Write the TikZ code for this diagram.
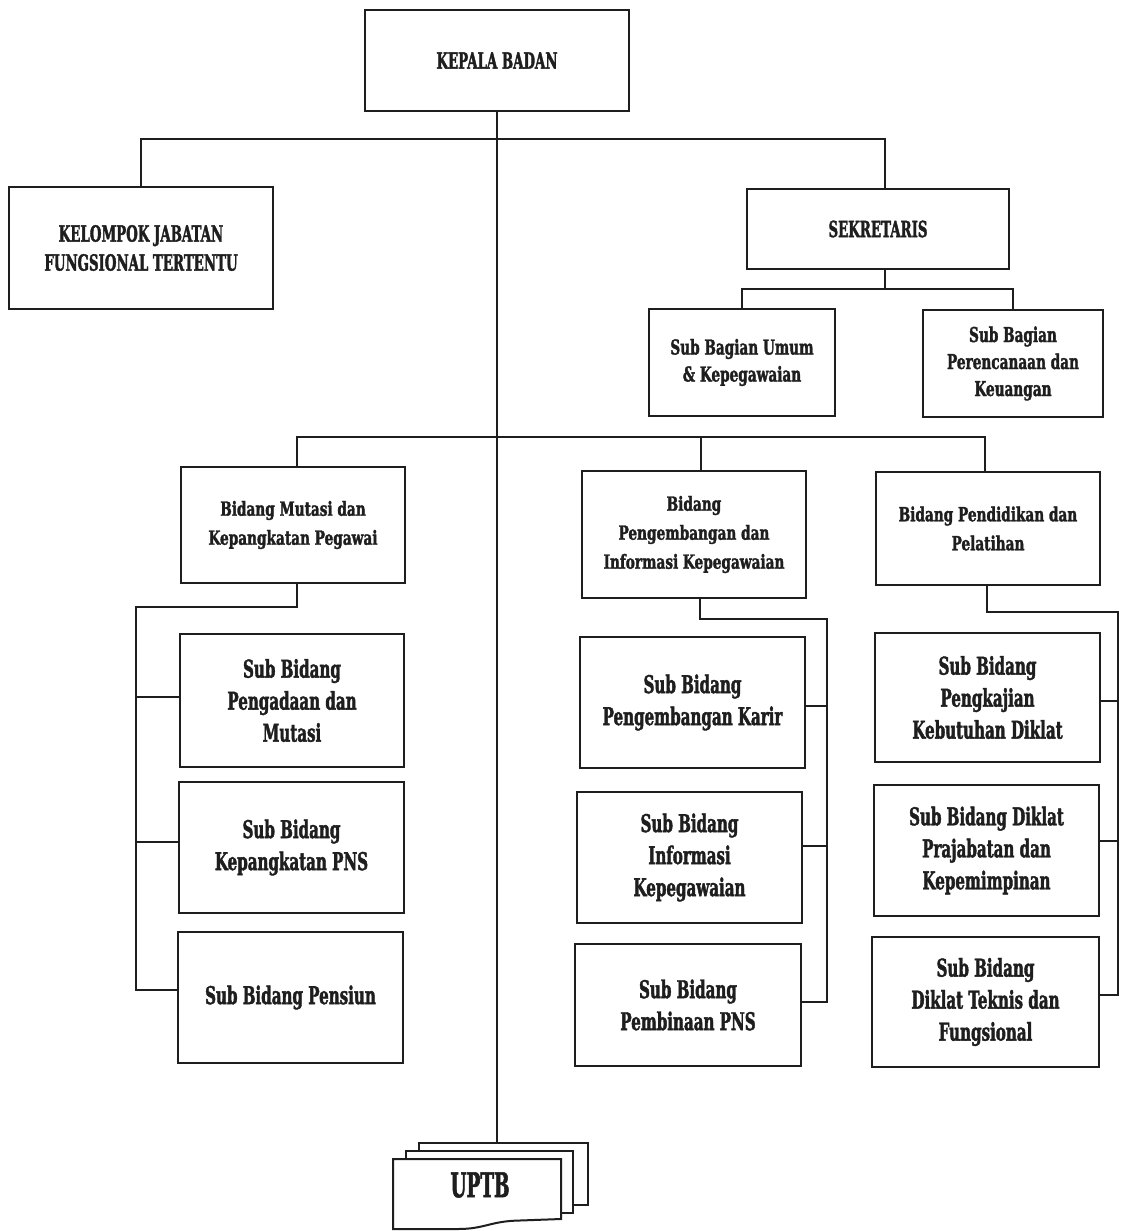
\documentclass[tikz,border=0pt]{standalone}
\usepackage{fontspec}
\setmainfont{DejaVu Serif}[FakeStretch=0.7, BoldFeatures={FakeBold=1.6}]
\newfontfamily\fsubb{DejaVu Serif}[FakeStretch=0.615, BoldFeatures={FakeBold=1.6}]
\newfontfamily\fcapp{DejaVu Serif}[FakeStretch=0.6, BoldFeatures={FakeBold=1.6}]
\newfontfamily\fbagg{DejaVu Serif}[FakeStretch=0.665, BoldFeatures={FakeBold=1.6}]
\newfontfamily\fupt{DejaVu Serif}[FakeStretch=0.54, BoldFeatures={FakeBold=1.6}]
\definecolor{ink}{HTML}{1E1E1E}
\begin{document}
\begin{tikzpicture}[x=1pt,y=-1pt,
  box/.style={draw=ink, line width=2pt, align=center, inner sep=2pt, outer sep=0pt, fill=white, text=ink},
  wire/.style={draw=ink, line width=2pt, line join=miter},
  capf/.style={font=\fcapp\fontsize{22.2}{29}\selectfont\bfseries},
  bidf/.style={font=\fontsize{19.5}{29}\selectfont\bfseries},
  subf/.style={font=\fsubb\fontsize{24.5}{32}\selectfont\bfseries},
  bagf/.style={font=\fbagg\fontsize{20.5}{27}\selectfont\bfseries},
  uptbf/.style={font=\fupt\fontsize{34}{36}\selectfont\bfseries}]
\useasboundingbox (0,0) rectangle (1123,1231);

% top level
\node[box,capf,minimum width=264pt,minimum height=101pt] (kepala) at (497,60.5) {KEPALA BADAN};
\node[box,capf,minimum width=264pt,minimum height=122pt] (kelompok) at (141,248) {KELOMPOK JABATAN\\FUNGSIONAL TERTENTU};
\node[box,capf,minimum width=262pt,minimum height=80pt] (sek) at (878,229) {SEKRETARIS};
\node[box,bagf,minimum width=186pt,minimum height=107pt] (sbu) at (742,362.5) {Sub Bagian Umum\\\& Kepegawaian};
\node[box,bagf,minimum width=180pt,minimum height=107pt] (sbp) at (1013,363.5) {Sub Bagian\\Perencanaan dan\\Keuangan};

% bidang
\node[box,bidf,minimum width=224pt,minimum height=116pt] (bm) at (293,525) {Bidang Mutasi dan\\Kepangkatan Pegawai};
\node[box,bidf,minimum width=224pt,minimum height=127pt] (bp) at (694,534.5) {Bidang\\Pengembangan dan\\Informasi Kepegawaian};
\node[box,bidf,minimum width=224pt,minimum height=113pt] (bd) at (988,528.5) {Bidang Pendidikan dan\\Pelatihan};

% sub bidang
\node[box,subf,minimum width=224pt,minimum height=133pt] (m1) at (292,700.5) {Sub Bidang\\Pengadaan dan\\Mutasi};
\node[box,subf,minimum width=225pt,minimum height=131pt] (m2) at (291.5,847.5) {Sub Bidang\\Kepangkatan PNS};
\node[box,subf,minimum width=225pt,minimum height=131pt] (m3) at (290.5,997.5) {Sub Bidang Pensiun};

\node[box,subf,minimum width=225pt,minimum height=131pt] (p1) at (692.5,702.5) {Sub Bidang\\Pengembangan Karir};
\node[box,subf,minimum width=225pt,minimum height=131pt] (p2) at (689.5,857.5) {Sub Bidang\\Informasi\\Kepegawaian};
\node[box,subf,minimum width=226pt,minimum height=122pt] (p3) at (688,1005) {Sub Bidang\\Pembinaan PNS};

\node[box,subf,minimum width=225pt,minimum height=129pt] (d1) at (987.5,697.5) {Sub Bidang\\Pengkajian\\Kebutuhan Diklat};
\node[box,subf,minimum width=225pt,minimum height=131pt] (d2) at (986.5,850.5) {Sub Bidang Diklat\\Prajabatan dan\\Kepemimpinan};
\node[box,subf,minimum width=227pt,minimum height=130pt] (d3) at (985.5,1002) {Sub Bidang\\Diklat Teknis dan\\Fungsional};

% UPTB stacked documents
\node[box,minimum width=169pt,minimum height=62pt] (uptbc) at (503.5,1174) {};
\node[box,minimum width=167pt,minimum height=62pt] (uptbb) at (489.5,1182) {};
\coordinate (fa) at (393,1159);
\coordinate (fb) at (561,1159);
\coordinate (fc) at (561,1219);
\coordinate (fd) at (520,1220.5);
\coordinate (fe) at (458,1229);
\coordinate (ff) at (393,1229);
\path[wire,fill=white] (fa) -- (fb) -- (fc) -- (fd) .. controls (490,1221) and (485,1229) .. (fe) -- (ff) -- cycle;
\node[uptbf,text=ink] (uptb) at (480,1185) {UPTB};

% trunk
\draw[wire] (kepala.south) -- (kepala.south |- uptbc.north);

% top bar
\coordinate (topbar) at (497,139);
\draw[wire] (kelompok.north) |- (topbar) -| ([xshift=7pt]sek.north);

% sekretaris branches
\coordinate (sekj) at (885,289);
\draw[wire] ([xshift=7pt]sek.south) -- (sekj);
\draw[wire] (sbu.north) |- (sekj) -| (sbp.north);

% bidang bar
\coordinate (bidbar) at (497,437);
\draw[wire] ([xshift=4pt]bm.north) |- (bidbar) -| ([xshift=-3pt]bd.north);
\draw[wire] ([xshift=7pt]bp.north) -- ([xshift=7pt]bp.north |- bidbar);

% mutasi spine
\coordinate (mtop) at (136,607);
\coordinate (mbot) at (136,990);
\draw[wire] ([xshift=4pt]bm.south) |- (mtop) -- (mbot) -- (mbot -| m3.west);
\draw[wire] (136,697) -- (m1.west |- 0,697);
\draw[wire] (136,842) -- (m2.west |- 0,842);

% pengembangan spine
\coordinate (ptop) at (827,619);
\coordinate (pbot) at (827,1002);
\draw[wire] ([xshift=6pt]bp.south) |- (ptop) -- (pbot) -- (pbot -| p3.east);
\draw[wire] (827,705.5) -- (p1.east |- 0,705.5);
\draw[wire] (827,846) -- (p2.east |- 0,846);

% diklat spine
\coordinate (dtop) at (1118,612);
\coordinate (dbot) at (1118,995);
\draw[wire] ([xshift=-1pt]bd.south) |- (dtop) -- (dbot) -- (dbot -| d3.east);
\draw[wire] (1118,701) -- (d1.east |- 0,701);
\draw[wire] (1118,841) -- (d2.east |- 0,841);
\end{tikzpicture}
\end{document}
